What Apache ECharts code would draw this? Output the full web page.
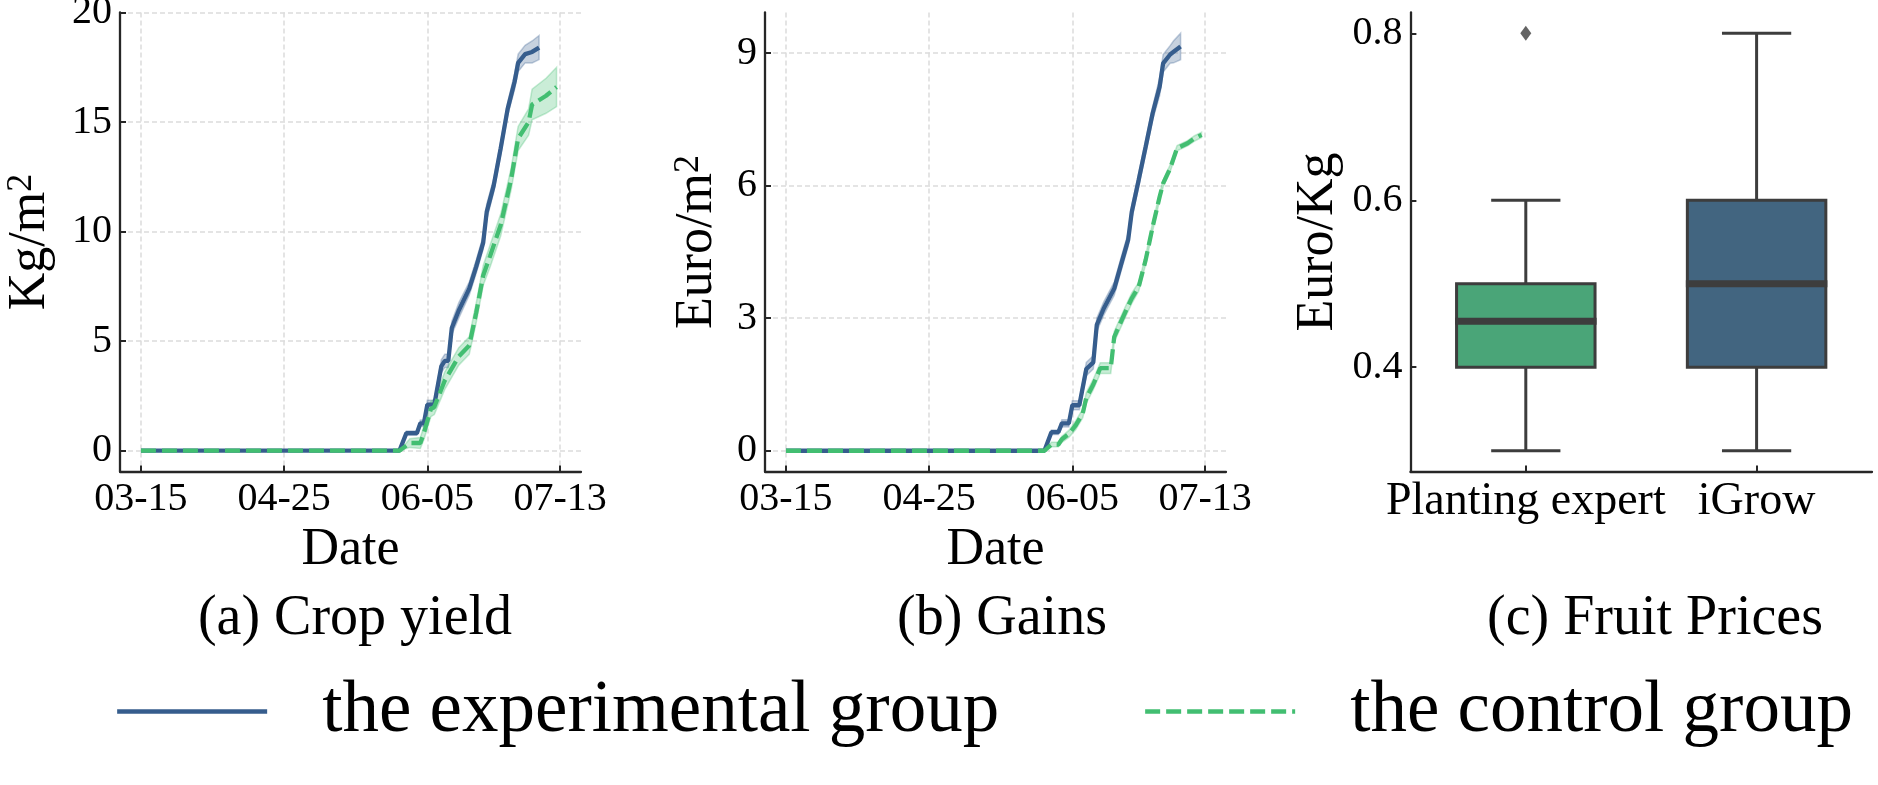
<!doctype html>
<html>
<head>
<meta charset="UTF-8">
<title>Crop yield, gains and fruit prices</title>
<script src="https://cdn.jsdelivr.net/npm/echarts@6/dist/echarts.min.js"></script>
<style>
  html, body { margin: 0; padding: 0; background: #fff; }
  #chart { width: 1878px; height: 785px; }
</style>
</head>
<body>
<div id="chart"></div>
<script>
// (a) crop yield, Kg/m2
var yieldExpDates = ['03-15', '05-28', '05-30', '06-02', '06-03', '06-04', '06-05', '06-07', '06-09', '06-10', '06-11', '06-12', '06-14',
  '06-17', '06-19', '06-21', '06-22', '06-24', '06-26', '06-28', '06-30', '07-01', '07-03', '07-05', '07-07'];
var yieldExpValues = [0, 0, 0.8, 0.8, 1.25, 1.25, 2.1, 2.1, 3.85, 4.1, 4.1, 5.6, 6.4, 7.4, 8.4, 9.5, 10.9, 12.1, 13.8, 15.6, 16.85, 17.7, 18.1, 18.2, 18.4];
var yieldExpSpread = [0, 0, 0.1, 0.1, 0.15, 0.15, 0.2, 0.2, 0.3, 0.3, 0.3, 0.3, 0.35, 0.3, 0.3, 0.3, 0.35, 0.3, 0.3, 0.3, 0.35, 0.4, 0.4, 0.5, 0.55];

var yieldCtlDates = ['03-15', '05-28', '05-31', '06-03', '06-04', '06-06', '06-07', '06-10', '06-14', '06-17', '06-19', '06-21', '06-23',
  '06-26', '06-29', '07-01', '07-04', '07-05', '07-09', '07-12'];
var yieldCtlValues = [0, 0, 0.35, 0.35, 0.8, 1.9, 2.0, 3.2, 4.3, 4.8, 6.3, 8.0, 8.9, 10.3, 12.4, 14.25, 15.0, 15.8, 16.2, 16.6];
var yieldCtlSpread = [0, 0, 0.2, 0.25, 0.3, 0.35, 0.35, 0.4, 0.4, 0.4, 0.45, 0.45, 0.5, 0.5, 0.5, 0.55, 0.6, 0.7, 0.8, 0.9];

// (b) gains, Euro/m2
var gainExpDates = ['03-15', '05-28', '05-30', '06-01', '06-02', '06-04', '06-05', '06-07', '06-09', '06-11', '06-12', '06-14', '06-17',
  '06-19', '06-21', '06-22', '06-24', '06-26', '06-28', '06-30', '07-01', '07-03', '07-04', '07-06'];
var gainExpValues = [0, 0, 0.42, 0.42, 0.62, 0.62, 1.03, 1.03, 1.85, 2.0, 2.85, 3.22, 3.67, 4.23, 4.78, 5.4, 6.13, 6.88, 7.64, 8.24, 8.77, 8.97, 9.03, 9.15];
var gainExpSpread = [0, 0, 0.05, 0.05, 0.08, 0.08, 0.1, 0.1, 0.15, 0.15, 0.15, 0.15, 0.15, 0.15, 0.15, 0.15, 0.15, 0.15, 0.15, 0.2, 0.2, 0.2, 0.25, 0.3];

var gainCtlDates = ['03-15', '05-28', '05-30', '06-01', '06-02', '06-04', '06-06', '06-08', '06-09', '06-11', '06-13', '06-16', '06-17',
  '06-20', '06-22', '06-24', '06-26', '06-28', '06-30', '07-01', '07-03', '07-05', '07-08', '07-10', '07-12'];
var gainCtlValues = [0, 0, 0.14, 0.14, 0.26, 0.38, 0.58, 0.85, 1.2, 1.5, 1.87, 1.87, 2.58, 3.11, 3.45, 3.71, 4.32, 5.07, 5.75, 6.05, 6.39, 6.85, 6.96, 7.07, 7.15];
var gainCtlSpread = [0, 0, 0.05, 0.05, 0.07, 0.08, 0.1, 0.1, 0.12, 0.12, 0.12, 0.12, 0.12, 0.12, 0.12, 0.1, 0.1, 0.1, 0.08, 0.08, 0.08, 0.06, 0.06, 0.06, 0.06];

var dateTicks = ['03-15', '04-25', '06-05', '07-13'];
var yieldTicks = [0, 5, 10, 15, 20];
var gainTicks = [0, 3, 6, 9];

// (c) fruit prices, Euro/Kg
var priceGroups = ['Planting expert', 'iGrow'];
var priceLow = [0.3, 0.3];
var priceQ1 = [0.4, 0.4];
var priceMedian = [0.455, 0.5];
var priceQ3 = [0.5, 0.6];
var priceHigh = [0.6, 0.8];
var priceOutliers = [['Planting expert', 0.8]];
var priceTicks = [0.4, 0.6, 0.8];

var BLUE = '#365d8d';
var GREEN = '#42be71';
var BLUE_BAND = ['rgba(54,93,141,0.28)', 'rgba(54,93,141,0.3)'];
var GREEN_BAND = ['rgba(66,190,113,0.28)', 'rgba(66,190,113,0.3)'];
var boxColors = ['#4aa578', '#426580'];
var FONT = "'Liberation Serif', 'DejaVu Serif', serif";
var AXIS = '#262626';

// dates are kept as ms timestamps on a plain value axis
function toTime(md) {
  var p = md.split('-');
  return new Date(2020, +p[0] - 1, +p[1]).getTime();
}
function pad(n) { return n < 10 ? '0' + n : '' + n; }

function pairs(dates, vals) {
  return dates.map(function(d, i) { return [toTime(d), vals[i]]; });
}

function lineSeries(name, idx, dates, vals, color, dashed) {
  return {
    name: name,
    type: 'line',
    xAxisIndex: idx,
    yAxisIndex: idx,
    data: pairs(dates, vals),
    symbol: 'none',
    silent: true,
    lineStyle: { color: color, width: 4.3, type: dashed ? [15, 6] : 'solid', cap: 'butt' },
    itemStyle: { color: color },
    z: 4
  };
}

// shaded band between value-spread and value+spread, drawn as one polygon
function bandSeries(idx, dates, vals, spread, colors) {
  return {
    type: 'custom',
    xAxisIndex: idx,
    yAxisIndex: idx,
    silent: true,
    z: 3,
    data: dates.map(function(d, i) { return [toTime(d), vals[i] - spread[i], vals[i] + spread[i]]; }),
    encode: { x: 0, y: [1, 2] },
    renderItem: function(params, api) {
      if (params.dataIndexInside !== 0) return null;
      var n = params.dataInsideLength;
      var top = [], bottom = [];
      for (var i = 0; i < n; i++) {
        top.push(api.coord([api.value(0, i), api.value(2, i)]));
        bottom.push(api.coord([api.value(0, i), api.value(1, i)]));
      }
      return {
        type: 'polygon',
        shape: { points: top.concat(bottom.reverse()) },
        style: { fill: colors[0], stroke: colors[1], lineWidth: 1.5 }
      };
    }
  };
}

function dateAxis(idx) {
  return {
    type: 'value',
    gridIndex: idx,
    min: toTime('03-09'),
    max: toTime('07-19'),
    name: 'Date',
    nameLocation: 'middle',
    nameGap: 46,
    nameTextStyle: { fontFamily: FONT, fontSize: 52, color: '#000' },
    axisLine: { onZero: false, lineStyle: { color: AXIS, width: 2.3 } },
    axisTick: { show: true, inside: true, length: 6, lineStyle: { color: AXIS, width: 2 }, customValues: dateTicks.map(toTime) },
    axisLabel: {
      fontFamily: FONT, fontSize: 40, color: '#000', margin: 8,
      customValues: dateTicks.map(toTime),
      formatter: function(v) { var d = new Date(v); return pad(d.getMonth() + 1) + '-' + pad(d.getDate()); }
    },
    splitLine: { show: true, customValues: dateTicks.map(toTime), lineStyle: { color: '#dcdcdc', width: 1.5, type: [5, 3] } }
  };
}

function valueAxis(idx, min, max, ticks, name, gap) {
  return {
    type: 'value',
    gridIndex: idx,
    min: min,
    max: max,
    name: name,
    nameLocation: 'middle',
    nameGap: gap,
    nameRotate: 90,
    nameTextStyle: {
      fontFamily: FONT, fontSize: 52, color: '#000',
      rich: { sup: { fontFamily: FONT, fontSize: 36, color: '#000', verticalAlign: 'top' } }
    },
    axisLine: { show: true, lineStyle: { color: AXIS, width: 2.3 } },
    axisTick: { show: true, inside: true, length: 6, lineStyle: { color: AXIS, width: 2 }, customValues: ticks },
    axisLabel: {
      fontFamily: FONT, fontSize: 40, color: '#000', margin: 8,
      customValues: ticks,
      formatter: function(v) { return idx === 2 ? v.toFixed(1) : String(v); }
    },
    splitLine: { show: idx !== 2, customValues: ticks, lineStyle: { color: '#dcdcdc', width: 1.5, type: [5, 3] } }
  };
}

var series = [
  bandSeries(0, yieldExpDates, yieldExpValues, yieldExpSpread, BLUE_BAND),
  lineSeries('the experimental group', 0, yieldExpDates, yieldExpValues, BLUE, false),
  bandSeries(0, yieldCtlDates, yieldCtlValues, yieldCtlSpread, GREEN_BAND),
  lineSeries('the control group', 0, yieldCtlDates, yieldCtlValues, GREEN, true),
  bandSeries(1, gainExpDates, gainExpValues, gainExpSpread, BLUE_BAND),
  lineSeries('the experimental group', 1, gainExpDates, gainExpValues, BLUE, false),
  bandSeries(1, gainCtlDates, gainCtlValues, gainCtlSpread, GREEN_BAND),
  lineSeries('the control group', 1, gainCtlDates, gainCtlValues, GREEN, true)
];

// boxes for (c)
series.push({
  name: 'prices',
  type: 'custom',
  xAxisIndex: 2,
  yAxisIndex: 2,
  silent: true,
  data: priceGroups.map(function(g, i) {
    return [i, priceLow[i], priceQ1[i], priceMedian[i], priceQ3[i], priceHigh[i]];
  }),
  encode: { x: 0, y: [1, 2, 3, 4, 5] },
  renderItem: function(params, api) {
    var i = api.value(0);
    var low = api.coord([i, api.value(1)]);
    var q1 = api.coord([i, api.value(2)]);
    var med = api.coord([i, api.value(3)]);
    var q3 = api.coord([i, api.value(4)]);
    var high = api.coord([i, api.value(5)]);
    var band = api.size([1, 0])[0];
    var bw = band * 0.6, cw = band * 0.3;
    var x = low[0];
    var edge = { stroke: '#3d3d3d', lineWidth: 3, fill: null };
    return {
      type: 'group',
      children: [
        { type: 'line', shape: { x1: x, y1: low[1], x2: x, y2: q1[1] }, style: edge },
        { type: 'line', shape: { x1: x, y1: q3[1], x2: x, y2: high[1] }, style: edge },
        { type: 'line', shape: { x1: x - cw / 2, y1: low[1], x2: x + cw / 2, y2: low[1] }, style: edge },
        { type: 'line', shape: { x1: x - cw / 2, y1: high[1], x2: x + cw / 2, y2: high[1] }, style: edge },
        { type: 'rect', shape: { x: x - bw / 2, y: q3[1], width: bw, height: q1[1] - q3[1] },
          style: { fill: boxColors[params.dataIndex], stroke: '#3d3d3d', lineWidth: 3 } },
        { type: 'line', shape: { x1: x - bw / 2 - 1.5, y1: med[1], x2: x + bw / 2 + 1.5, y2: med[1] },
          style: { stroke: '#3d3d3d', lineWidth: 7 } }
      ]
    };
  }
});
series.push({
  name: 'outliers',
  type: 'scatter',
  xAxisIndex: 2,
  yAxisIndex: 2,
  silent: true,
  symbol: 'diamond',
  symbolSize: [11, 15],
  itemStyle: { color: '#3d3d3d' },
  data: priceOutliers
});

// top padding pushes the text down so the icon line sits a bit higher, as in the figure
var legendText = { fontFamily: FONT, fontSize: 73, color: '#000', padding: [18, 0, 0, 50] };
var legendBase = {
  top: 670, itemWidth: 150, itemHeight: 20, selectedMode: false,
  textStyle: legendText,
  itemStyle: { opacity: 0 },
  lineStyle: { width: 4.3 }
};

var option = {
  animation: false,
  backgroundColor: '#ffffff',
  title: [
    { text: '(a) Crop yield', left: 350, top: 586, textAlign: 'center', textStyle: { fontFamily: FONT, fontSize: 56, fontWeight: 'normal', color: '#000' } },
    { text: '(b) Gains', left: 997, top: 586, textAlign: 'center', textStyle: { fontFamily: FONT, fontSize: 56, fontWeight: 'normal', color: '#000' } },
    { text: '(c) Fruit Prices', left: 1650, top: 586, textAlign: 'center', textStyle: { fontFamily: FONT, fontSize: 56, fontWeight: 'normal', color: '#000' } }
  ],
  legend: [
    Object.assign({ data: ['the experimental group'], left: 110 }, legendBase),
    Object.assign({ data: ['the control group'], left: 1138 }, legendBase)
  ],
  grid: [
    { left: 120, top: 12.5, width: 461, height: 459, outerBoundsMode: 'none' },
    { left: 765, top: 12.5, width: 461, height: 459, outerBoundsMode: 'none' },
    { left: 1410.4, top: 12.5, width: 461.6, height: 459, outerBoundsMode: 'none' }
  ],
  xAxis: [
    dateAxis(0),
    dateAxis(1),
    {
      type: 'category',
      gridIndex: 2,
      data: priceGroups,
      boundaryGap: true,
      axisLine: { lineStyle: { color: AXIS, width: 2.3 } },
      axisTick: { show: true, inside: true, length: 6, alignWithLabel: true, lineStyle: { color: AXIS, width: 2 } },
      axisLabel: { fontFamily: FONT, fontSize: 46, color: '#000', margin: 7, interval: 0 },
      splitLine: { show: false }
    }
  ],
  yAxis: [
    valueAxis(0, -0.95, 20, yieldTicks, 'Kg/m{sup|2}', 64),
    valueAxis(1, -0.47, 9.92, gainTicks, 'Euro/m{sup|2}', 42),
    valueAxis(2, 0.275, 0.825, priceTicks, 'Euro/Kg', 66)
  ],
  series: series
};

var chart = echarts.init(document.getElementById('chart'));
chart.setOption(option);
</script>
</body>
</html>
